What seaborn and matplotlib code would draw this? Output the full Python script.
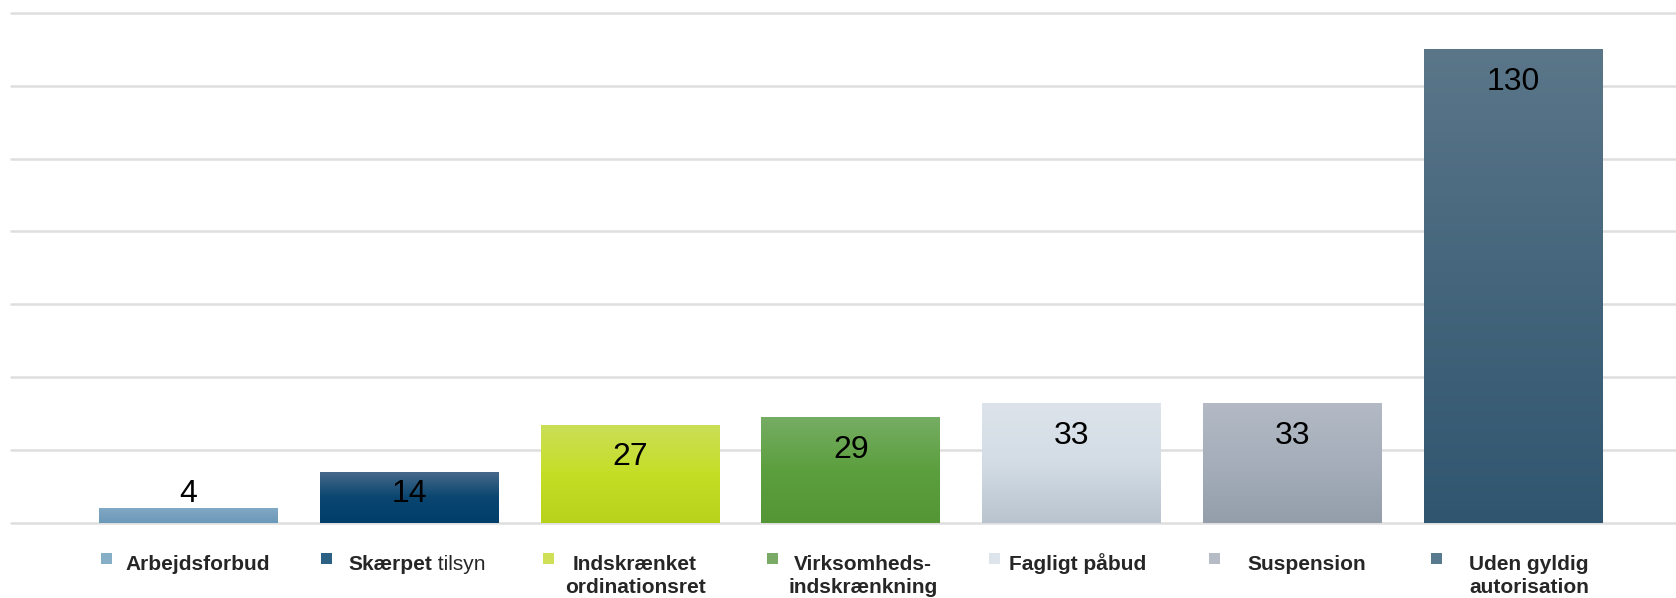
import numpy as np
import matplotlib
matplotlib.use("Agg")
import matplotlib.pyplot as plt
import seaborn as sns
from matplotlib.patches import Rectangle

# data
categories = ["Arbejdsforbud", "Skærpet tilsyn", "Indskrænket ordinationsret",
              "Virksomheds-indskrænkning", "Fagligt påbud", "Suspension",
              "Uden gyldig autorisation"]
values = [4, 14, 27, 29, 33, 33, 130]
legend_lines = [["Arbejdsforbud"], ["Skærpet", "tilsyn"], ["Indskrænket", "ordinationsret"],
                ["Virksomheds-", "indskrænkning"], ["Fagligt påbud"], ["Suspension"],
                ["Uden gyldig", "autorisation"]]
y_ticks = list(range(0, 141, 20))

# gradient stops (top, middle, bottom) per bar and legend swatch colours
grad_colors = [["#80aac5", "#779fbe", "#6a9ab8"],
               ["#4a6b8c", "#0a4670", "#003e6b"],
               ["#cbdf58", "#c4de26", "#b8d11b"],
               ["#76ad64", "#5c9f3e", "#549636"],
               ["#dce3eb", "#d3dce5", "#b9c4cf"],
               ["#b3bac5", "#a5aeba", "#949eab"],
               ["#5b7689", "#44657c", "#30566f"]]
swatch_colors = ["#87aec7", "#2d6183", "#cfe056", "#79ab67", "#dde4ec", "#b5bcc6", "#587a8f"]

W, H = 1676, 598
def fx(x):
    return x / W
def fy(y):
    return 1 - y / H

sns.set_style("white")
plt.rcParams["font.family"] = ["Liberation Sans", "DejaVu Sans"]

fig = plt.figure(figsize=(W / 100, H / 100), dpi=100)
ax = fig.add_axes([fx(11), fy(523), 1 - fx(11), (523 - 12.7) / H])

sns.barplot(x=categories, y=values, hue=categories, palette=swatch_colors,
            width=0.81, legend=False, ax=ax)

# vertical gradient inside each bar
for patch, cols in zip(ax.patches, grad_colors):
    x0, y0 = patch.get_x(), patch.get_y()
    w, h = patch.get_width(), patch.get_height()
    cmap = matplotlib.colors.LinearSegmentedColormap.from_list("g", cols[::-1])
    grad = np.linspace(0, 1, 256).reshape(-1, 1)
    im = ax.imshow(grad, cmap=cmap, origin="lower", aspect="auto",
                   extent=(x0, x0 + w, y0, y0 + h), zorder=2)
    im.set_clip_path(patch)
    patch.set_edgecolor("none")
ax.set_xlim(-0.804, 6.737)
ax.set_ylim(0, 140)

# value labels
for i, v in enumerate(values):
    ax.text(i, max(v - 9.0, 7.9), str(v), ha="center", va="center",
            fontsize=23, color="black", zorder=5)

ax.set_yticks(y_ticks)
ax.set_yticklabels([])
ax.set_xticks([])
ax.set_xlabel("")
ax.set_ylabel("")
ax.tick_params(length=0)
ax.yaxis.grid(True, color="#dedede", linewidth=1.8)
ax.set_axisbelow(True)
for gl in ax.get_ygridlines():
    gl.set_clip_on(False)
for s in ax.spines.values():
    s.set_visible(False)

# legend below the plot
sq_left = [101, 321, 543, 767, 989, 1209, 1431]
txt_center = [197.5, 416, 635, 863, 1078, 1307, 1529]
for i, lines in enumerate(legend_lines):
    fig.add_artist(Rectangle((fx(sq_left[i]), fy(564)), 11 / W, 11 / H,
                             transform=fig.transFigure, color=swatch_colors[i], lw=0))
    if i == 1:
        t1 = fig.text(fx(348), fy(570), lines[0], fontsize=15, fontweight="bold",
                      ha="left", va="baseline")
        ax.annotate(" " + lines[1], xy=(1, 0), xycoords=t1, fontsize=15,
                    ha="left", va="bottom", annotation_clip=False)
        continue
    for j, line in enumerate(lines):
        fig.text(fx(txt_center[i]), fy(570 + 23 * j), line, fontsize=15,
                 fontweight="bold", ha="center", va="baseline")

fig.savefig("out.png", dpi=100)
